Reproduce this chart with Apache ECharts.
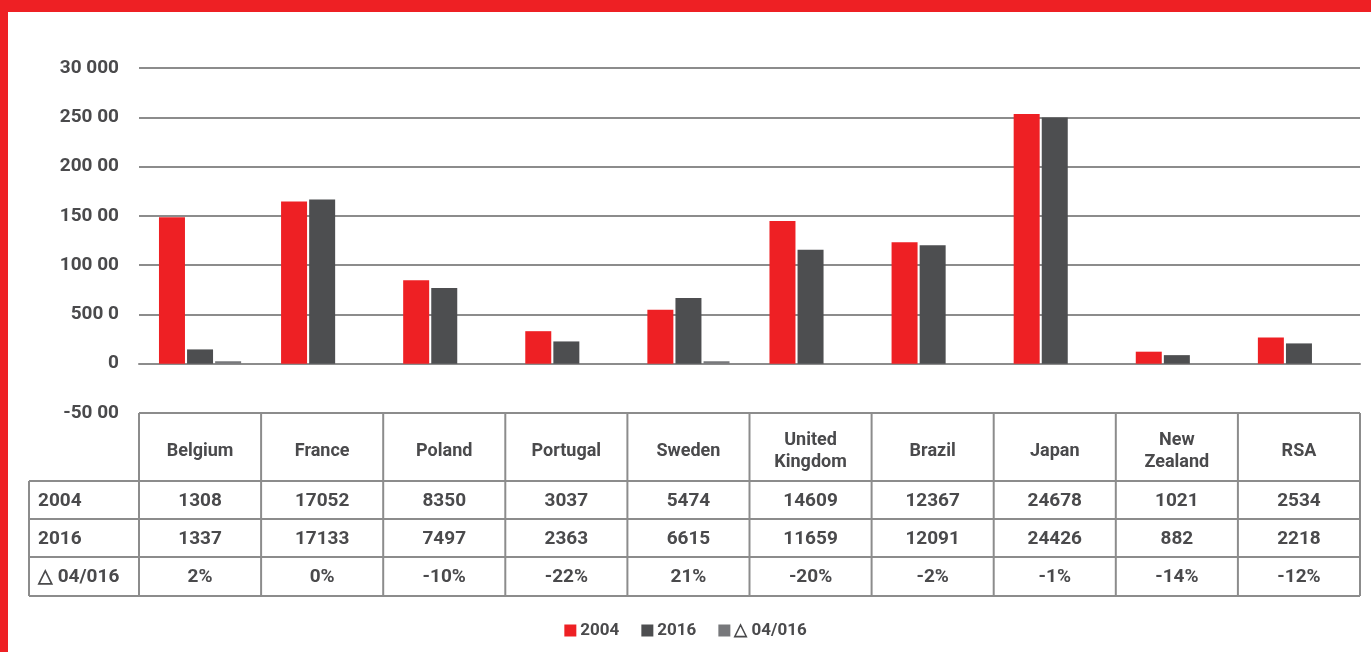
<!DOCTYPE html>
<html>
<head>
<meta charset="utf-8">
<script src="https://cdn.jsdelivr.net/npm/echarts@6/dist/echarts.min.js"></script>
<style>
  html, body { margin: 0; padding: 0; background: #fff; }
  #main { width: 1371px; height: 652px; }
</style>
</head>
<body>
<div id="main"></div>
<script>
// data
const categories = ['Belgium', 'France', 'Poland', 'Portugal', 'Sweden', 'United\nKingdom', 'Brazil', 'Japan', 'New\nZealand', 'RSA'];
const values2004 = [14850, 16450, 8470, 3300, 5470, 14470, 12310, 25340, 1220, 2660];
const values2016 = [1450, 16650, 7670, 2260, 6670, 11560, 12030, 24980, 870, 2060];
const valuesDelta = [250, 0, 0, 0, 250, 0, 0, 0, 0, 0];

const table2004 = ['1308', '17052', '8350', '3037', '5474', '14609', '12367', '24678', '1021', '2534'];
const table2016 = ['1337', '17133', '7497', '2363', '6615', '11659', '12091', '24426', '882', '2218'];
const tableDelta = ['2%', '0%', '-10%', '-22%', '21%', '-20%', '-2%', '-1%', '-14%', '-12%'];
const rowLabels = ['2004', '2016', '\u25b3 04/016'];

const yTickValues = [30000, 25000, 20000, 15000, 10000, 5000, 0, -5000];
const yTickLabels = ['30 000', '250 00', '200 00', '150 00', '100 00', '500 0', '0', '-50 00'];

const RED = '#ee2024', DARK = '#4d4e50', GREY = '#77787b';
const TEXT = '#4a4a4c', LINE = '#8c8c8c';
const FONT = "'Liberation Sans Narrow', 'Roboto', 'Liberation Sans', sans-serif";

let chart = echarts.init(document.getElementById('main'));

// grid box (table hangs under it)
const W = 1371, H = 652;
const gLeft = 139, gRight = 1360, gTop = 68, gBottom = 413;
const colW = (gRight - gLeft) / categories.length;
const rowLeft = 29;
const rowY = [413, 481, 519, 557, 596];

let graphics = [
    { type: 'rect', shape: { x: 0, y: 0, width: W, height: 12 }, style: { fill: RED }, silent: true },
    { type: 'rect', shape: { x: 0, y: 0, width: 8, height: H }, style: { fill: RED }, silent: true }
];

function hline(y, x1, x2) {
    graphics.push({ type: 'line', shape: { x1: x1, y1: y, x2: x2, y2: y }, style: { stroke: LINE, lineWidth: 2 }, silent: true });
}
function vline(x, y1, y2) {
    graphics.push({ type: 'line', shape: { x1: x, y1: y1, x2: x, y2: y2 }, style: { stroke: LINE, lineWidth: 2 }, silent: true });
}
function label(text, x, y, size, align) {
    graphics.push({
        type: 'text', silent: true,
        style: {
            text: text, x: x, y: y, align: align || 'center', verticalAlign: 'middle',
            font: 'bold ' + size + 'px ' + FONT, fill: TEXT, lineHeight: 22
        }
    });
}

// table lines
hline(rowY[0], gLeft, gRight);
for (let r = 1; r < rowY.length; r++) hline(rowY[r], rowLeft, gRight);
vline(rowLeft, rowY[1], rowY[4]);
for (let c = 0; c <= categories.length; c++) vline(gLeft + c * colW, rowY[0], rowY[4]);

// table text
const rows = [table2004, table2016, tableDelta];
for (let c = 0; c < categories.length; c++) {
    let cx = gLeft + (c + 0.5) * colW;
    label(categories[c], cx, (rowY[0] + rowY[1]) / 2 + 4, 18);
    for (let r = 0; r < rows.length; r++) {
        label(rows[r][c], cx, (rowY[r + 1] + rowY[r + 2]) / 2 + 1, 19);
    }
}
for (let r = 0; r < rowLabels.length; r++) {
    label(rowLabels[r], 38, (rowY[r + 1] + rowY[r + 2]) / 2 + 1, 19, 'left');
}

let option = {
    animation: false,
    grid: { left: gLeft, right: W - gRight, top: gTop, bottom: H - gBottom },
    legend: {
        data: ['2004', '2016', '\u25b3 04/016'],
        bottom: 8,
        left: 'center',
        itemWidth: 12,
        itemHeight: 12,
        itemGap: 22,
        icon: 'rect',
        textStyle: { color: TEXT, fontSize: 17, fontWeight: 'bold', fontFamily: FONT, padding: [0, 0, 0, -1] }
    },
    xAxis: {
        type: 'category',
        data: categories,
        axisLine: { show: true, lineStyle: { color: LINE, width: 2 } },
        axisTick: { show: false },
        axisLabel: { show: false }
    },
    yAxis: {
        type: 'value',
        min: -5000,
        max: 30000,
        interval: 5000,
        axisLine: { show: false },
        axisTick: { show: false },
        splitLine: { lineStyle: { color: LINE, width: 2 } },
        axisLabel: {
            margin: 20,
            color: TEXT,
            fontSize: 19,
            fontWeight: 'bold',
            fontFamily: FONT,
            formatter: function (v) {
                let i = yTickValues.indexOf(v);
                return i >= 0 ? yTickLabels[i] : '';
            }
        }
    },
    series: [
        { name: '2004', type: 'bar', data: values2004, barWidth: 26, barGap: '8%', itemStyle: { color: RED } },
        { name: '2016', type: 'bar', data: values2016, barWidth: 26, barGap: '8%', itemStyle: { color: DARK } },
        { name: '\u25b3 04/016', type: 'bar', data: valuesDelta, barWidth: 26, barGap: '8%', itemStyle: { color: GREY } }
    ],
    graphic: graphics
};
chart.setOption(option);
</script>
</body>
</html>
